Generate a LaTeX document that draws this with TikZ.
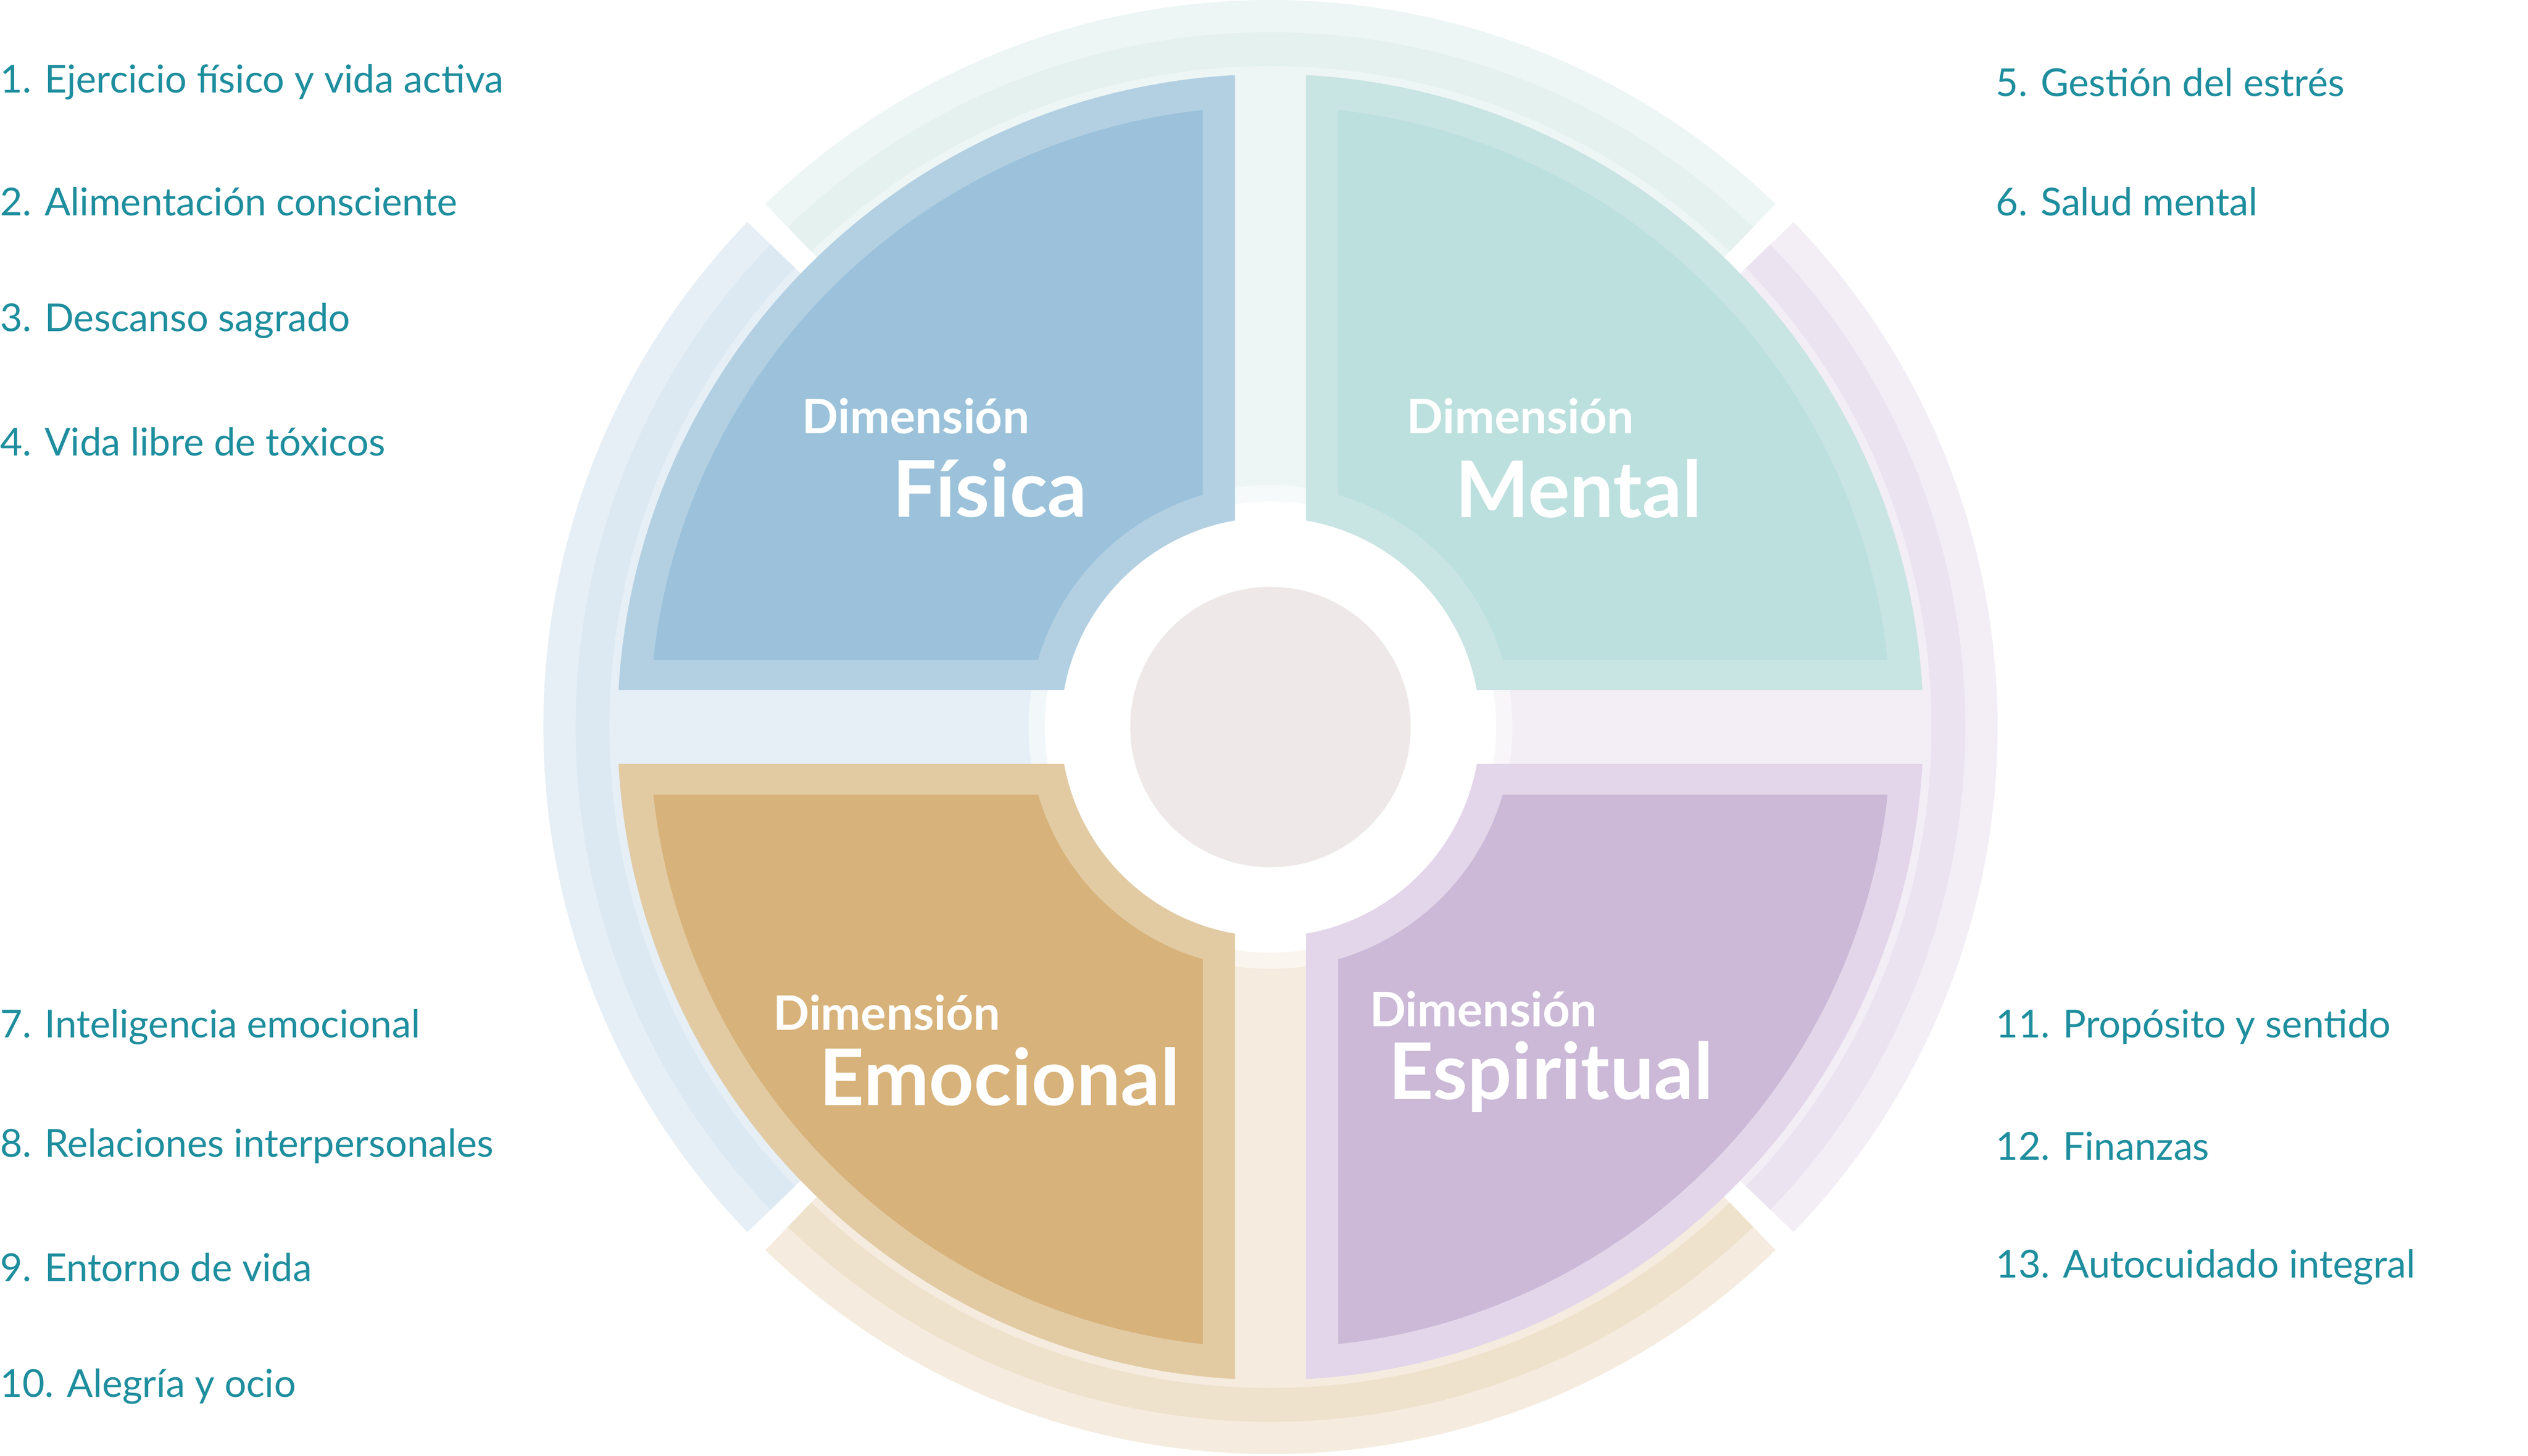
\documentclass[tikz,border=0pt]{standalone}
\usepackage{fontspec}
\setmainfont{Lato}
\definecolor{txt}{HTML}{1E8E9E}
\definecolor{fo}{HTML}{B3D0E3}\definecolor{fi}{HTML}{9BC2DA}
\definecolor{mo}{HTML}{C8E4E3}\definecolor{mi}{HTML}{BCE0DE}
\definecolor{eo}{HTML}{E2CBA3}\definecolor{ei}{HTML}{D7B27A}
\definecolor{so}{HTML}{E3D6EA}\definecolor{si}{HTML}{CBB9D7}
\definecolor{tb}{HTML}{EEF6F5}\definecolor{tb2}{HTML}{E4F1EF}
\definecolor{lb}{HTML}{E6EFF6}\definecolor{lb2}{HTML}{DCE9F2}
\definecolor{rb}{HTML}{F3EEF6}\definecolor{rb2}{HTML}{ECE3F1}
\definecolor{bb}{HTML}{F5ECDF}\definecolor{bb2}{HTML}{EFE2CD}
\definecolor{cc}{HTML}{EEE9E8}
\tikzset{item/.style={anchor=west,text=txt,inner sep=0,font=\fontsize{68}{80}\selectfont},
dim/.style={text=white,inner sep=0,font=\bfseries\fontsize{84}{96}\selectfont},
big/.style={text=white,inner sep=0,font=\bfseries\fontsize{138}{150}\selectfont}}
\newcommand{\sect}[3]{% angle, pale, band
 \fill[#2] ({#1-44}:140) arc[start angle={#1-44},end angle={#1+44},radius=140] -- ({#1+44}:451) arc[start angle={#1+44},end angle={#1-44},radius=451] -- cycle;
 \fill[#3] ({#1-44}:410) arc[start angle={#1-44},end angle={#1+44},radius=410] -- ({#1+44}:431) arc[start angle={#1+44},end angle={#1-44},radius=431] -- cycle;}
\newcommand{\quadr}[4]{%
 \begin{scope}[xscale=#1,yscale=#2]
 \begin{scope}\clip (22,23) rectangle (460,460);
 \fill[#3,even odd rule] (0,0) circle[radius=405] (0,0) circle[radius=130];
 \clip (42,42) rectangle (460,460);
 \fill[#4,even odd rule] (0,0) circle[radius=385] (0,0) circle[radius=150];
 \end{scope}\end{scope}}
\begin{document}
\begin{tikzpicture}[x=1mm,y=1mm]
\useasboundingbox (0,0) rectangle (1568,903);
\begin{scope}[shift={(788,452)}]
\sect{90}{tb}{tb2}\sect{180}{lb}{lb2}\sect{0}{rb}{rb2}\sect{270}{bb}{bb2}
\fill[white,opacity=0.5] (0,0) circle[radius=150];
\fill[white] (0,0) circle[radius=130];
\fill[cc] (0,0) circle[radius=87];
\node[coordinate] (c) at (0,0) {};
\quadr{-1}{1}{fo}{fi}
\quadr{1}{1}{mo}{mi}
\quadr{-1}{-1}{eo}{ei}
\quadr{1}{-1}{so}{si}
\end{scope}
\node[dim] (d1) at (568,645) {Dimensión};
\node[big] (b1) at (614,600) {Física};
\node[dim] (d2) at (943,645) {Dimensión};
\node[big] (b2) at (979,600) {Mental};
\node[dim] (d3) at (550,275) {Dimensión};
\node[big] (b3) at (620,235) {Emocional};
\node[dim] (d4) at (920,277) {Dimensión};
\node[big] (b4) at (962,235) {Espiritual};
\node[item] (i1) at (0,852) {1. Ejercicio físico y vida activa};
\node[item] (i2) at (0,778) {2. Alimentación consciente};
\node[item] (i3) at (0,704) {3. Descanso sagrado};
\node[item] (i4) at (0,629) {4. Vida libre de tóxicos};
\node[item] (i7) at (0,266) {7. Inteligencia emocional};
\node[item] (i8) at (0,192) {8. Relaciones interpersonales};
\node[item] (i9) at (0,117) {9. Entorno de vida};
\node[item] (i10) at (0,43) {10. Alegría y ocio};
\node[item] (i5) at (1238,852) {5. Gestión del estrés};
\node[item] (i6) at (1238,778) {6. Salud mental};
\node[item] (i11) at (1238,266) {11. Propósito y sentido};
\node[item] (i12) at (1238,192) {12. Finanzas};
\node[item] (i13) at (1238,117) {13. Autocuidado integral};
\end{tikzpicture}
\end{document}
